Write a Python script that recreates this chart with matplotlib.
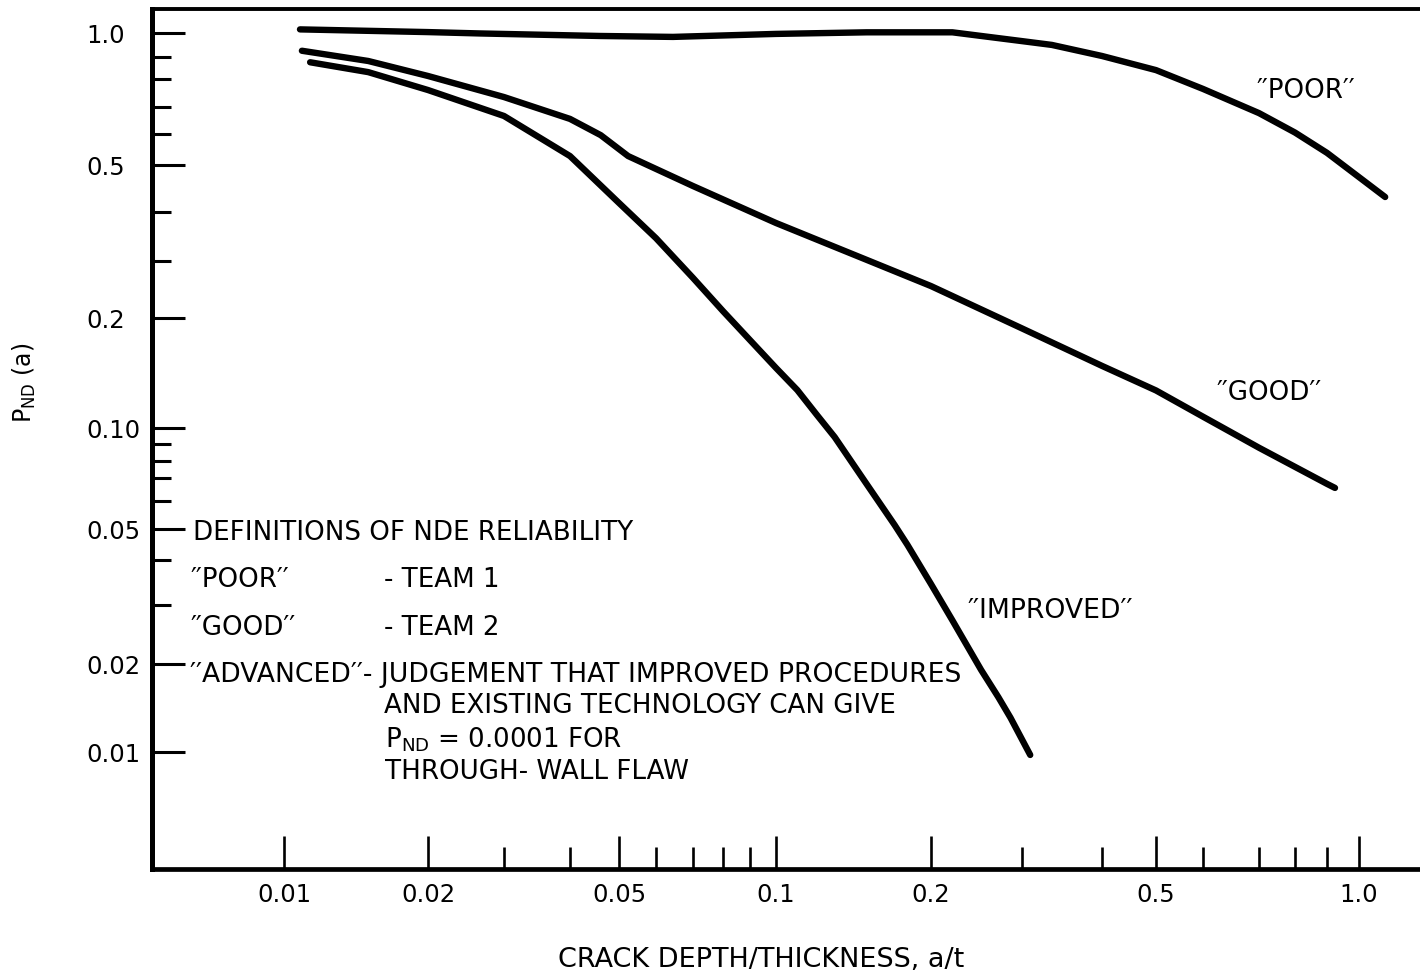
import numpy as np
import matplotlib
matplotlib.use("Agg")
import matplotlib.pyplot as plt

# curves (a/t, P_ND)
poor_x = [0.0108, 0.02, 0.0264, 0.0459, 0.0644, 0.1, 0.15, 0.22, 0.3, 0.334,
          0.4, 0.5, 0.6, 0.7, 0.8, 0.9, 1.0, 1.09]
poor_y = [1.016, 1.004, 0.998, 0.987, 0.983, 0.996, 1.003, 1.003, 0.965, 0.949,
          0.904, 0.839, 0.763, 0.676, 0.605, 0.537, 0.472, 0.4295]

good_x = [0.0109, 0.015, 0.02, 0.03, 0.04, 0.046, 0.0523, 0.07, 0.1, 0.15, 0.2,
          0.3, 0.4, 0.5, 0.6, 0.7, 0.8, 0.9, 0.924]
good_y = [0.925, 0.881, 0.813, 0.734, 0.654, 0.596, 0.527, 0.4525, 0.375, 0.302,
          0.251, 0.1873, 0.1479, 0.1267, 0.1074, 0.0877, 0.0764, 0.0673, 0.0655]

improved_x = [0.01134, 0.015, 0.02, 0.03, 0.04, 0.05, 0.06, 0.07, 0.08, 0.09,
              0.1, 0.11, 0.12, 0.13, 0.15, 0.17, 0.18, 0.2, 0.22, 0.25, 0.27,
              0.285, 0.309]
improved_y = [0.875, 0.830, 0.759, 0.665, 0.527, 0.4175, 0.343, 0.266, 0.210,
              0.174, 0.146, 0.127, 0.1087, 0.0942, 0.0672, 0.0513, 0.0446,
              0.0343, 0.0270, 0.0191, 0.0154, 0.0131, 0.00977]

x_major = [0.01, 0.02, 0.05, 0.1, 0.2, 0.5, 1.0]
x_major_labels = ["0.01", "0.02", "0.05", "0.1", "0.2", "0.5", "1.0"]
x_minor = [0.03, 0.04, 0.06, 0.07, 0.08, 0.09, 0.3, 0.4, 0.6, 0.7, 0.8, 0.9]

y_major = [0.01, 0.02, 0.05, 0.1, 0.2, 0.5, 1.0]
y_major_labels = ["0.01", "0.02", "0.05", "0.10", "0.2", "0.5", "1.0"]
y_minor = [0.03, 0.04, 0.06, 0.07, 0.08, 0.09, 0.3, 0.4, 0.6, 0.7, 0.8, 0.9]

# the printed grid is not a true log grid: calibrate the scale on the drawn ticks
x_cal = [0.01, 0.02, 0.03, 0.04, 0.05, 0.06, 0.07, 0.08, 0.09, 0.1,
         0.2, 0.3, 0.4, 0.5, 0.6, 0.7, 0.8, 0.9, 1.0]
x_cal_px = [284, 428, 504, 570, 619, 656, 693, 723, 750, 776,
            931, 1022, 1102, 1156, 1203, 1259, 1295, 1327, 1359]
y_cal = [0.01, 0.02, 0.03, 0.04, 0.05, 0.06, 0.07, 0.08, 0.09, 0.1,
         0.2, 0.3, 0.4, 0.5, 0.6, 0.7, 0.8, 0.9, 1.0]
y_cal_px = [752, 664, 605, 560, 529, 501, 478, 461, 444, 428,
            318, 261, 212, 165, 134, 107, 79, 57, 33]

W, H = 1420, 977


def interp_ext(t, xp, fp):
    t = np.asarray(t, dtype=float)
    xp = np.asarray(xp, dtype=float)
    fp = np.asarray(fp, dtype=float)
    out = np.interp(t, xp, fp)
    lo = fp[0] + (t - xp[0]) * (fp[1] - fp[0]) / (xp[1] - xp[0])
    hi = fp[-1] + (t - xp[-1]) * (fp[-1] - fp[-2]) / (xp[-1] - xp[-2])
    out = np.where(t < xp[0], lo, out)
    out = np.where(t > xp[-1], hi, out)
    return out


def safe_log(v):
    v = np.asarray(v, dtype=float)
    return np.log10(np.where(v > 0, v, 1e-12))


xl = np.log10(x_cal)
xp = np.array(x_cal_px, dtype=float)
yl = np.log10(y_cal)
yp = -np.array(y_cal_px, dtype=float)


def fwd_x(v):
    return interp_ext(safe_log(v), xl, xp)


def inv_x(p):
    return 10 ** interp_ext(p, xp, xl)


def fwd_y(v):
    return interp_ext(safe_log(v), yl, yp)


def inv_y(q):
    return 10 ** interp_ext(q, yp, yl)


fig = plt.figure(figsize=(W / 100, H / 100), dpi=100)
ax = fig.add_axes([152 / W, 1 - 869 / H, (W - 152) / W, (869 - 9) / H])

ax.set_xscale("function", functions=(fwd_x, inv_x))
ax.set_yscale("function", functions=(fwd_y, inv_y))
ax.set_xlim(float(inv_x(152)), float(inv_x(W)))
ax.set_ylim(float(inv_y(-869)), float(inv_y(-9)))

for xs, ys in [(poor_x, poor_y), (good_x, good_y), (improved_x, improved_y)]:
    ax.plot(xs, ys, color="black", lw=4.6, solid_capstyle="round",
            solid_joinstyle="round")

ax.set_xticks(x_major)
ax.set_xticklabels(x_major_labels)
ax.set_xticks(x_minor, minor=True)
ax.set_yticks(y_major)
ax.set_yticklabels(y_major_labels)
ax.set_yticks(y_minor, minor=True)

ax.tick_params(axis="x", which="major", direction="in", length=24, width=1.9,
               pad=10, labelsize=17.5)
ax.tick_params(axis="x", which="minor", direction="in", length=15.5, width=1.9)
ax.tick_params(axis="y", which="major", direction="in", length=24, width=2.2,
               pad=47, labelsize=17.5)
ax.tick_params(axis="y", which="minor", direction="in", length=14, width=2.2)
for lab in ax.get_yticklabels():
    lab.set_horizontalalignment("left")

ax.spines["right"].set_visible(False)
ax.spines["left"].set_linewidth(3.6)
ax.spines["bottom"].set_linewidth(3.4)
ax.spines["top"].set_linewidth(2.8)

fs = 18.8


def ftext(x, y, s, **kw):
    fig.text(x / W, 1 - y / H, s, fontsize=kw.pop("fontsize", fs),
             va=kw.pop("va", "center"), **kw)


q = "\u2032\u2032"
ftext(193, 533, "DEFINITIONS OF NDE RELIABILITY")
ftext(190, 580, q + "POOR" + q)
ftext(384, 580, "- TEAM 1")
ftext(190, 628, q + "GOOD" + q)
ftext(384, 628, "- TEAM 2")
ftext(190, 675, q + "ADVANCED" + q + "- JUDGEMENT THAT IMPROVED PROCEDURES",
      fontsize=19.2)
ftext(384, 706, "AND EXISTING TECHNOLOGY CAN GIVE")
ftext(385, 740, r"P$_{\mathregular{ND}}$ = 0.0001 FOR")
ftext(385, 772, "THROUGH- WALL FLAW")

ftext(1256, 91, q + "POOR" + q)
ftext(1216, 393, q + "GOOD" + q)
ftext(967, 611, q + "IMPROVED" + q, fontsize=19.2)

ftext(761, 960, "CRACK DEPTH/THICKNESS, a/t", ha="center", fontsize=19.5)
fig.text(24 / W, 1 - 383 / H, r"P$_{\mathregular{ND}}$ (a)", rotation=90,
         ha="center", va="center", fontsize=17)

fig.savefig("out.png", dpi=100)
